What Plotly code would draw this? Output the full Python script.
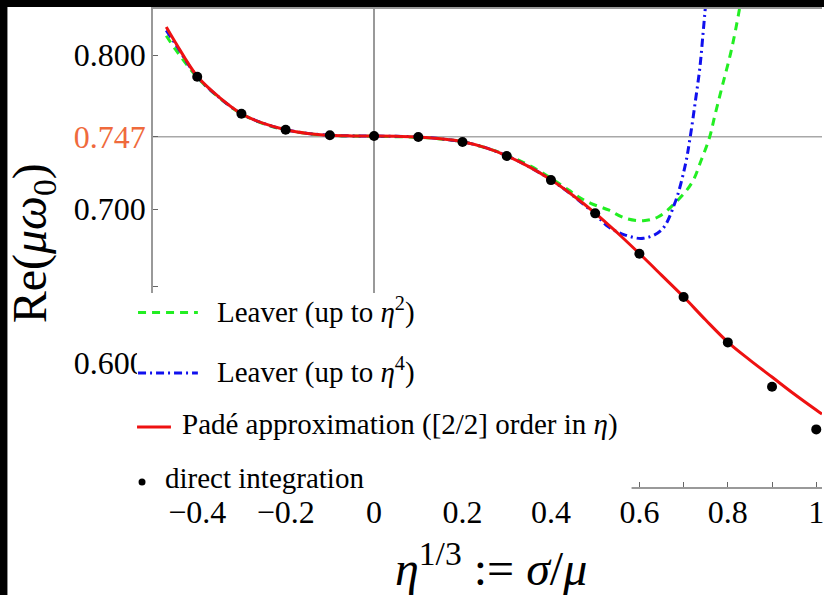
import plotly.graph_objects as go

# ---------------- data ----------------
direct_x = [-0.4, -0.3, -0.2, -0.1, 0.0, 0.1, 0.2, 0.3, 0.4, 0.5, 0.6, 0.7, 0.8, 0.9, 1.0]
direct_y = [0.7859, 0.7619, 0.7515, 0.7479, 0.7474, 0.7468, 0.7435, 0.7344, 0.7188,
            0.6972, 0.6710, 0.6429, 0.6134, 0.5846, 0.5569]

pade_x = [-0.47, -0.45, -0.40, -0.35, -0.30, -0.25, -0.20, -0.15, -0.10, -0.05, 0.0,
          0.05, 0.10, 0.15, 0.20, 0.25, 0.30, 0.35, 0.40, 0.45, 0.50, 0.55, 0.60,
          0.65, 0.70, 0.75, 0.80, 0.85, 0.90, 0.95, 1.00, 1.013]
pade_y = [0.8182, 0.8085, 0.7862, 0.7725, 0.7619, 0.7556, 0.7515, 0.7491, 0.7479, 0.7475, 0.7474,
          0.7472, 0.7468, 0.7456, 0.7437, 0.7400, 0.7346, 0.7275, 0.7190, 0.7088, 0.6974, 0.6846, 0.6711,
          0.6571, 0.6430, 0.6279, 0.6136, 0.6019, 0.5909, 0.5799, 0.5695, 0.5669]

leaver2_x = [-0.47, -0.45, -0.40, -0.35, -0.30, -0.25, -0.20, -0.15, -0.10, -0.05, 0.0,
             0.05, 0.10, 0.15, 0.20, 0.25, 0.30, 0.35, 0.40, 0.44, 0.462, 0.49, 0.53, 0.568,
             0.609, 0.643, 0.68, 0.718, 0.74, 0.759, 0.77, 0.789, 0.808, 0.8246, 0.832]
leaver2_y = [0.8125, 0.8040, 0.7855, 0.7722, 0.7618, 0.7554, 0.7513, 0.7490, 0.7478, 0.7474, 0.7472,
             0.7470, 0.7466, 0.7455, 0.7437, 0.7400, 0.7350, 0.7285, 0.7200, 0.7123, 0.7080, 0.7037, 0.6994, 0.6940,
             0.6924, 0.6950, 0.7037, 0.7167, 0.7318, 0.7469, 0.7599, 0.7816, 0.8032, 0.8271, 0.8400]

leaver4_x = [-0.47, -0.45, -0.40, -0.35, -0.30, -0.25, -0.20, -0.15, -0.10, -0.05, 0.0,
             0.05, 0.10, 0.15, 0.20, 0.25, 0.30, 0.35, 0.40, 0.45, 0.50, 0.53, 0.568,
             0.609, 0.65, 0.68, 0.703, 0.715, 0.727, 0.737, 0.744, 0.749, 0.753]
leaver4_y = [0.8160, 0.8075, 0.7860, 0.7724, 0.7619, 0.7556, 0.7515, 0.7491, 0.7479, 0.7475, 0.7474,
             0.7472, 0.7468, 0.7456, 0.7437, 0.7400, 0.7346, 0.7275, 0.7190, 0.7086, 0.6965, 0.6885, 0.6831,
             0.6810, 0.6864, 0.7037, 0.7275, 0.7469, 0.7708, 0.7924, 0.8141, 0.8303, 0.8450]

x_tick_vals = [-0.4, -0.2, 0.0, 0.2, 0.4, 0.6, 0.8, 1.0]
x_tick_text = ["\u22120.4", "\u22120.2", "0", "0.2", "0.4", "0.6", "0.8", "1"]
x_minor_vals = [-0.3, -0.1, 0.1, 0.3, 0.5, 0.7, 0.9]
y_tick_vals = [0.600, 0.700, 0.747, 0.800]
y_tick_text = ["0.600", "0.700", '<span style="color:#EF6A3C">0.747</span>', "0.800"]
y_minor_vals = [0.650]
REF_Y = 0.747

X_RANGE = [-0.5, 1.013]
Y_RANGE = [0.5195, 0.8299]

legend_labels = ["Leaver (up to <i>\u03b7</i><sup>2</sup>)",
                 "Leaver (up to <i>\u03b7</i><sup>4</sup>)",
                 "Pad\u00e9 approximation ([2/2] order in <i>\u03b7</i>)",
                 "direct integration"]

# ---------------- layout geometry ----------------
W, H = 824, 595
ML, MR, MT, MB = 153, 0, 9, 108
PW, PH = W - ML - MR, H - MT - MB
SERIF = "Liberation Serif, Times New Roman, serif"


def px(xp):
    return (xp - ML) / PW


def py(yp):
    return (H - MB - yp) / PH


fig = go.Figure()
fig.add_trace(go.Scatter(x=leaver2_x, y=leaver2_y, mode="lines", line_shape="spline",
                         line=dict(color="#22EE22", width=3, dash="8px,6px"),
                         name="Leaver (up to η²)", showlegend=False))
fig.add_trace(go.Scatter(x=leaver4_x, y=leaver4_y, mode="lines", line_shape="spline",
                         line=dict(color="#1010EE", width=3, dash="8px,4px,2px,4px"),
                         name="Leaver (up to η⁴)", showlegend=False))
fig.add_trace(go.Scatter(x=pade_x, y=pade_y, mode="lines", line_shape="spline",
                         line=dict(color="#EE1111", width=3),
                         name="Padé approximation", showlegend=False))
fig.add_trace(go.Scatter(x=direct_x, y=direct_y, mode="markers", cliponaxis=False,
                         marker=dict(color="black", size=10),
                         name="direct integration", showlegend=False))

shapes = []
# white canvas inside the black screenshot border
shapes.append(dict(type="rect", xref="paper", yref="paper", layer="below",
                   x0=px(7), x1=px(W + 5), y0=py(H + 5), y1=py(7),
                   fillcolor="white", line=dict(width=0)))
# horizontal reference grid line
shapes.append(dict(type="line", xref="paper", yref="y", layer="below",
                   x0=0, x1=1, y0=REF_Y, y1=REF_Y,
                   line=dict(color="#A8A8A8", width=1.5)))
# legend box
shapes.append(dict(type="rect", xref="paper", yref="paper", layer="above",
                   x0=px(137), x1=px(633), y0=py(494), y1=py(293),
                   fillcolor="white", line=dict(width=0)))
# legend samples
shapes.append(dict(type="line", xref="paper", yref="paper", layer="above",
                   x0=px(138), x1=px(198), y0=py(312.5), y1=py(312.5),
                   line=dict(color="#22EE22", width=3, dash="8px,6px")))
shapes.append(dict(type="line", xref="paper", yref="paper", layer="above",
                   x0=px(138), x1=px(198), y0=py(373), y1=py(373),
                   line=dict(color="#1010EE", width=3, dash="8px,4px,2px,4px")))
shapes.append(dict(type="line", xref="paper", yref="paper", layer="above",
                   x0=px(137), x1=px(171), y0=py(427), y1=py(427),
                   line=dict(color="#EE1111", width=3)))
shapes.append(dict(type="circle", xref="paper", yref="paper", layer="above",
                   x0=px(142 - 3.5), x1=px(142 + 3.5), y0=py(482 + 3.5), y1=py(482 - 3.5),
                   fillcolor="black", line=dict(width=0)))

annotations = []
leg_pos = [(215, 311), (215, 370), (180, 424), (163, 478)]
for (lx, ly), txt in zip(leg_pos, legend_labels):
    annotations.append(dict(text=txt, xref="paper", yref="paper", x=px(lx), y=py(ly),
                            xanchor="left", yanchor="middle", showarrow=False,
                            font=dict(family=SERIF, size=29, color="black")))
# axis titles
annotations.append(dict(text="Re(<i>\u03bc\u03c9</i><sub>0</sub>)", xref="paper", yref="paper",
                        x=px(33), y=py(243), textangle=-90, showarrow=False,
                        xanchor="center", yanchor="middle",
                        font=dict(family=SERIF, size=48, color="black")))
annotations.append(dict(text="<i>\u03b7</i><sup>1/3</sup> := <i>\u03c3</i>/<i>\u03bc</i>",
                        xref="paper", yref="paper",
                        x=px(492), y=py(565), showarrow=False,
                        xanchor="center", yanchor="middle",
                        font=dict(family=SERIF, size=48, color="black")))

fig.update_layout(
    width=W, height=H,
    margin=dict(l=ML, r=MR, t=MT, b=MB, pad=0),
    paper_bgcolor="black", plot_bgcolor="rgba(0,0,0,0)",
    showlegend=False,
    shapes=shapes, annotations=annotations,
    xaxis=dict(range=X_RANGE, tickmode="array", tickvals=x_tick_vals, ticktext=x_tick_text,
               ticks="inside", ticklen=5, tickcolor="#666", tickwidth=1,
               minor=dict(tickmode="array", tickvals=x_minor_vals, ticks="inside",
                          ticklen=5, tickcolor="#666", tickwidth=1, showgrid=False),
               showline=True, linecolor="#999", linewidth=2, mirror=True,
               showgrid=False, zeroline=True, zerolinecolor="#999", zerolinewidth=1.5,
               ticklabeloverflow="allow",
               tickfont=dict(family=SERIF, size=32, color="black"), ticklabelstandoff=-4),
    yaxis=dict(range=Y_RANGE, tickmode="array", tickvals=y_tick_vals, ticktext=y_tick_text,
               ticks="inside", ticklen=5, tickcolor="#666", tickwidth=1,
               minor=dict(tickmode="array", tickvals=y_minor_vals, ticks="inside",
                          ticklen=5, tickcolor="#666", tickwidth=1, showgrid=False),
               showline=True, linecolor="#999", linewidth=1.5,
               showgrid=False, zeroline=False,
               tickfont=dict(family=SERIF, size=32, color="black"), ticklabelstandoff=-1),
)

fig.write_html("out.html", config={"displayModeBar": False},
               post_script="document.body.style.margin='0';document.body.style.padding='0';"
                           "document.documentElement.style.overflow='hidden';")
